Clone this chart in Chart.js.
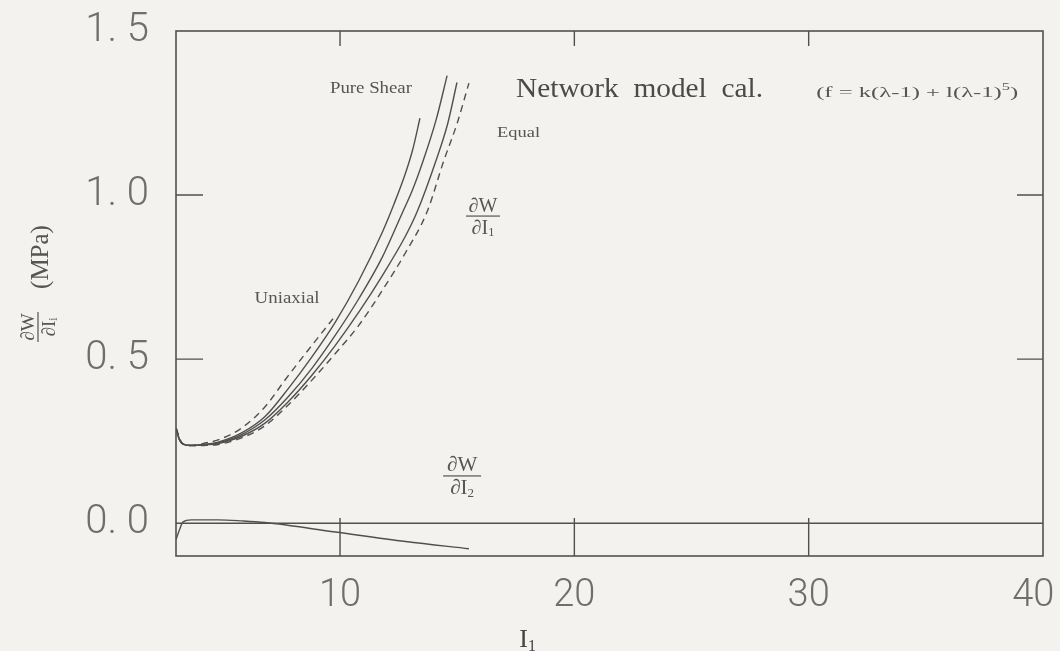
<!DOCTYPE html>
<html><head><meta charset="utf-8">
<script src="https://cdn.jsdelivr.net/npm/chart.js@4/dist/chart.umd.min.js"></script>
<style>html,body{margin:0;padding:0;background:#f4f2ef;} canvas{display:block;}</style>
</head><body>
<canvas id="c" width="1060" height="651" style="width:1060px;height:651px"></canvas>
<script>
// ---- data ----
const uniaxialI1 = [3, 3.15, 3.3, 3.65, 4.3, 4.8, 5.8, 6.8, 7.8, 8.8, 9.8, 10.8, 11.8, 12.3, 12.8, 13.1, 13.41];
const uniaxialDW = [0.29, 0.254, 0.241, 0.237, 0.241, 0.247, 0.275, 0.325, 0.411, 0.507, 0.613, 0.739, 0.886, 0.972, 1.068, 1.138, 1.234];

const pureShearI1 = [3, 3.15, 3.3, 3.65, 4.3, 4.8, 5.8, 6.8, 7.8, 8.8, 9.8, 10.8, 11.8, 12.66, 13.1, 13.54, 14.1, 14.57];
const pureShearDW = [0.29, 0.254, 0.241, 0.237, 0.24, 0.245, 0.27, 0.315, 0.386, 0.472, 0.573, 0.684, 0.81, 0.946, 1.017, 1.103, 1.229, 1.364];

const equalI1 = [3, 3.15, 3.3, 3.65, 4.3, 4.8, 5.8, 6.8, 7.8, 8.8, 9.8, 10.8, 11.8, 12.8, 13.29, 14.09, 14.6, 14.99];
const equalDW = [0.29, 0.254, 0.241, 0.237, 0.239, 0.243, 0.265, 0.305, 0.371, 0.451, 0.542, 0.643, 0.754, 0.876, 0.949, 1.104, 1.219, 1.343];

const dashedLowI1 = [3, 3.15, 3.3, 3.65, 4.3, 4.8, 5.8, 6.8, 7.8, 8.8, 9.8, 10.8, 11.8, 12.8, 13.72, 14.43, 15.0, 15.5];
const dashedLowDW = [0.29, 0.254, 0.241, 0.236, 0.237, 0.24, 0.26, 0.297, 0.361, 0.436, 0.517, 0.603, 0.709, 0.825, 0.95, 1.105, 1.219, 1.341];

const dashedUpI1 = [3, 3.3, 3.65, 4.3, 4.8, 5.8, 6.8, 7.7, 8.8, 9.7];
const dashedUpDW = [0.29, 0.241, 0.237, 0.245, 0.254, 0.29, 0.355, 0.441, 0.542, 0.623];

const dI2I1 = [3, 3.15, 3.3, 3.65, 4.8, 5.8, 6.8, 9.8, 12.8, 15.5];
const dI2DW = [-0.05, -0.02, 0.004, 0.01, 0.01, 0.007, 0.002, -0.027, -0.056, -0.078];

const zeroLineI1 = [3, 40];
const zeroLineDW = [0, 0];

const xTickValues = [10, 20, 30, 40];
const xTickLabels = ['10', '20', '30', '40'];
const yTickValues = [0, 0.5, 1.0, 1.5];
const yTickLabels = ['0. 0', '0. 5', '1. 0', '1. 5'];
const xInnerTicks = [10, 20, 30];
const yInnerTicks = [0.5, 1.0];

function pts(xs, ys) { return xs.map((x, i) => ({ x: x, y: ys[i] })); }

const INK = '#505050';
const TEXT = '#555555';
const SERIF = '"Liberation Serif", "DejaVu Serif", serif';

function lineDs(label, xs, ys, dash) {
  return {
    label: label, data: pts(xs, ys), borderColor: INK, borderWidth: 1.4,
    borderDash: dash || [], pointRadius: 0, fill: false,
    cubicInterpolationMode: 'monotone'
  };
}

function fitText(ctx, txt, x, y, font, w, align) {
  ctx.font = font;
  const m = ctx.measureText(txt).width;
  ctx.save();
  ctx.translate(x, y);
  ctx.scale(w / m, 1);
  ctx.textAlign = 'left';
  ctx.fillText(txt, align === 'center' ? -m / 2 : 0, 0);
  ctx.restore();
}

function frac(ctx, cx, by, size, sub, barW) {
  ctx.textBaseline = 'alphabetic';
  ctx.font = size + 'px ' + SERIF;
  ctx.textAlign = 'center';
  ctx.fillText('\u2202W', cx, by - size * 0.22);
  ctx.fillRect(cx - barW / 2, by - 0.6, barW, 1.2);
  const main = '\u2202I';
  const wm = ctx.measureText(main).width;
  ctx.font = (size * 0.62) + 'px ' + SERIF;
  const ws = ctx.measureText(sub).width;
  const start = cx - (wm + ws) / 2;
  ctx.textAlign = 'left';
  ctx.font = size + 'px ' + SERIF;
  ctx.fillText(main, start, by + size * 0.88);
  ctx.font = (size * 0.62) + 'px ' + SERIF;
  ctx.fillText(sub, start + wm, by + size * 1.0);
}

const deco = {
  id: 'deco',
  beforeDraw(chart) {
    const c = chart.ctx;
    c.save(); c.fillStyle = '#f4f2ef'; c.fillRect(0, 0, chart.width, chart.height); c.restore();
  },
  afterDraw(chart) {
    const ctx = chart.ctx, a = chart.chartArea, xs = chart.scales.x, ys = chart.scales.y;
    ctx.save();
    ctx.strokeStyle = INK; ctx.lineWidth = 1.6;
    ctx.strokeRect(a.left, a.top, a.right - a.left, a.bottom - a.top);
    ctx.lineWidth = 1.4;
    ctx.beginPath();
    xInnerTicks.forEach(v => {
      const p = xs.getPixelForValue(v);
      ctx.moveTo(p, a.bottom); ctx.lineTo(p, a.bottom - 38);
      ctx.moveTo(p, a.top); ctx.lineTo(p, a.top + 15);
    });
    yInnerTicks.forEach(v => {
      const p = ys.getPixelForValue(v);
      ctx.moveTo(a.left, p); ctx.lineTo(a.left + 27, p);
      ctx.moveTo(a.right, p); ctx.lineTo(a.right - 26, p);
    });
    ctx.stroke();

    // annotations
    ctx.fillStyle = TEXT;
    ctx.textBaseline = 'middle';
    fitText(ctx, 'Pure Shear', xs.getPixelForValue(11.32), ys.getPixelForValue(1.323), '16px ' + SERIF, 82, 'center');
    ctx.fillStyle = '#4a4a4a';
    fitText(ctx, 'Network  model  cal.', xs.getPixelForValue(17.51), ys.getPixelForValue(1.32), '27px ' + SERIF, 247, 'left');
    ctx.fillStyle = TEXT;
    // formula
    (function () {
      const x0 = xs.getPixelForValue(30.32), y0 = ys.getPixelForValue(1.311);
      const f = '15px ' + SERIF, fs = '10px ' + SERIF;
      const p1 = '(f = k(\u03bb-1) + l(\u03bb-1)', p2 = '5', p3 = ')';
      ctx.font = f; const w1 = ctx.measureText(p1).width, w3 = ctx.measureText(p3).width;
      ctx.font = fs; const w2 = ctx.measureText(p2).width;
      const total = w1 + w2 + w3, sc = 202 / total;
      ctx.save(); ctx.translate(x0, y0); ctx.scale(sc, 1);
      ctx.textAlign = 'left';
      ctx.font = f; ctx.fillText(p1, 0, 0);
      ctx.font = fs; ctx.fillText(p2, w1, -6);
      ctx.font = f; ctx.fillText(p3, w1 + w2, 0);
      ctx.restore();
    })();
    fitText(ctx, 'Equal', xs.getPixelForValue(16.7), ys.getPixelForValue(1.189), '15px ' + SERIF, 43, 'left');
    fitText(ctx, 'Uniaxial', xs.getPixelForValue(7.74), ys.getPixelForValue(0.683), '16px ' + SERIF, 65, 'center');
    frac(ctx, xs.getPixelForValue(16.1), ys.getPixelForValue(0.936), 20, '1', 34);
    frac(ctx, xs.getPixelForValue(15.21), ys.getPixelForValue(0.144), 21, '2', 38);

    // x-axis title
    ctx.fillStyle = '#444';
    ctx.textBaseline = 'alphabetic';
    ctx.textAlign = 'left';
    const tx = xs.getPixelForValue(17.65);
    ctx.font = '26px ' + SERIF; ctx.fillText('I', tx, 647);
    const wI = ctx.measureText('I').width;
    ctx.font = '16px ' + SERIF; ctx.fillText('1', tx + wI, 651);

    // y-axis title (rotated)
    ctx.save();
    ctx.translate(38, 290);
    ctx.rotate(-Math.PI / 2);
    ctx.fillStyle = '#555';
    frac(ctx, -37, 0, 19, 'i', 30);
    ctx.textBaseline = 'middle';
    ctx.textAlign = 'center';
    ctx.font = '25px ' + SERIF;
    ctx.fillText('(MPa)', 33, 3);
    ctx.restore();
    ctx.restore();
  }
};

const tickFont = { family: 'Roboto', size: 40, weight: '300' };

new Chart(document.getElementById('c'), {
  type: 'line',
  data: {
    datasets: [
      lineDs('zero', zeroLineI1, zeroLineDW),
      lineDs('dW/dI2', dI2I1, dI2DW),
      lineDs('Uniaxial', uniaxialI1, uniaxialDW),
      lineDs('Pure Shear', pureShearI1, pureShearDW),
      lineDs('Equal', equalI1, equalDW),
      lineDs('dashed 1', dashedLowI1, dashedLowDW, [7, 5]),
      lineDs('dashed 2', dashedUpI1, dashedUpDW, [7, 5])
    ]
  },
  options: {
    responsive: false,
    animation: false,
    devicePixelRatio: 1,
    layout: { padding: { left: 0, right: 17, top: 31, bottom: 0 } },
    plugins: { legend: { display: false }, tooltip: { enabled: false } },
    scales: {
      x: {
        type: 'linear', min: 3, max: 40,
        grid: { display: false, drawTicks: false },
        border: { display: false },
        afterBuildTicks: s => { s.ticks = xTickValues.map(v => ({ value: v })); },
        afterFit: s => { s.height = 95; s.paddingLeft = 0; s.paddingRight = 0; },
        ticks: {
          padding: 18, color: '#6e6e6e', font: { family: 'Roboto', size: 38, weight: '300' }, maxRotation: 0,
          callback: (v) => {
            const i = xTickValues.indexOf(v);
            if (i < 0) return '';
            // last label sits a little inside the frame, as in the reference
            return i === xTickValues.length - 1 ? xTickLabels[i] + '\u2002' : xTickLabels[i];
          }
        }
      },
      y: {
        type: 'linear', min: -0.1, max: 1.5,
        grid: { display: false, drawTicks: false },
        border: { display: false },
        afterBuildTicks: s => { s.ticks = yTickValues.map(v => ({ value: v })); },
        afterFit: s => { s.width = 176; s.paddingTop = 0; s.paddingBottom = 0; },
        ticks: {
          padding: 27, color: '#6e6e6e', font: tickFont,
          callback: (v) => { const i = yTickValues.indexOf(v); return i >= 0 ? yTickLabels[i] : ''; }
        }
      }
    }
  },
  plugins: [deco]
});
</script>
</body></html>
